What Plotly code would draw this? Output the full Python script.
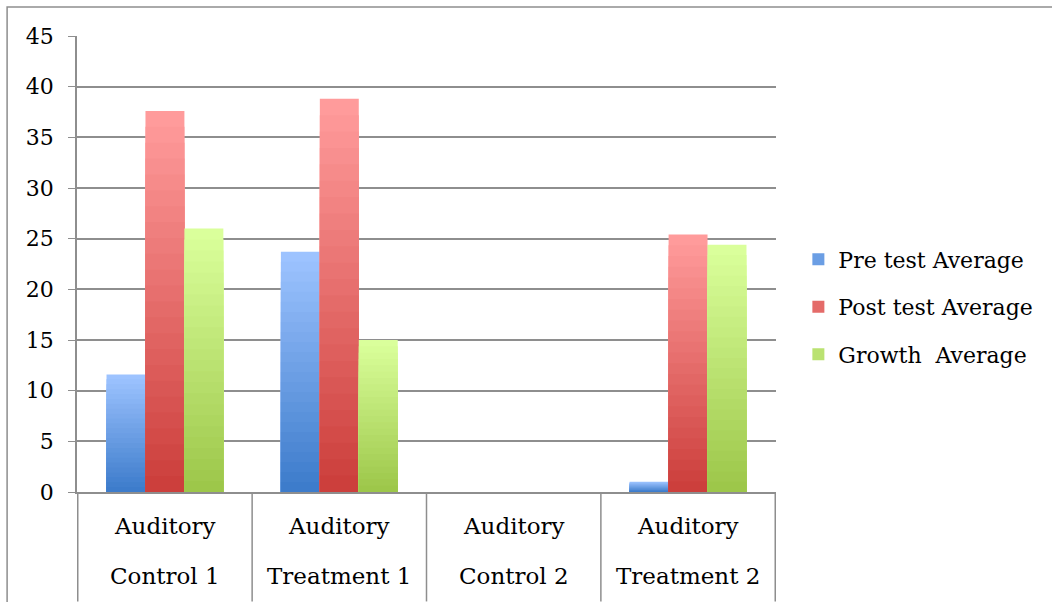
import plotly.graph_objects as go

categories = ["Auditory Control 1", "Auditory Treatment 1", "Auditory Control 2", "Auditory Treatment 2"]
label_line1 = ["Auditory", "Auditory", "Auditory", "Auditory"]
label_line2 = ["Control 1", "Treatment 1", "Control 2", "Treatment 2"]

pre_test = [11.6, 23.7, 0, 1.0]
post_test = [37.6, 38.8, 0, 25.4]
growth = [26.0, 15.0, 0, 24.4]

series_names = ["Pre test Average", "Post test Average", "Growth  Average"]
series_values = [pre_test, post_test, growth]
# (top colour, bottom colour) for a vertical gradient
series_colors = [((157, 195, 255), (61, 124, 203)),
                 ((255, 155, 155), (204, 63, 60)),
                 ((218, 255, 155), (157, 199, 74))]

FONT = "DejaVu Serif"
K = 24  # gradient steps

fig = go.Figure()
for s, (name, vals, (top, bot)) in enumerate(zip(series_names, series_values, series_colors)):
    for i in range(K):
        f = i / (K - 1)
        c = tuple(round(top[j] + (bot[j] - top[j]) * f) for j in range(3))
        frac = (K - i) / K
        fig.add_trace(go.Bar(
            x=categories,
            y=[v * frac for v in vals],
            name=name,
            offsetgroup=str(s),
            legendgroup=name,
            showlegend=(i == K // 2),
            marker=dict(color="rgb(%d,%d,%d)" % c, line=dict(width=0)),
            hoverinfo="skip" if i > 0 else None,
        ))

n = len(categories)
shapes = []
for b in range(n + 1):
    shapes.append(dict(type="line", xref="x", yref="paper", x0=b - 0.5, x1=b - 0.5,
                       y0=0, y1=-0.24, line=dict(color="#8E8E8E", width=1.5), layer="below"))
# outer chart border
shapes.append(dict(type="rect", xref="paper", yref="paper", x0=-0.1, x1=1.45, y0=-0.3, y1=1.0636,
                   line=dict(color="#8E8E8E", width=1.5), layer="below"))

annotations = []
for i in range(n):
    annotations.append(dict(x=categories[i], y=0, xref="x", yref="paper", text=label_line1[i],
                            showarrow=False, yanchor="middle", yshift=-34,
                            font=dict(family=FONT, size=23, color="#000")))
    annotations.append(dict(x=categories[i], y=0, xref="x", yref="paper", text=label_line2[i],
                            showarrow=False, yanchor="middle", yshift=-84,
                            font=dict(family=FONT, size=23, color="#000")))

fig.update_layout(
    width=1052, height=602,
    margin=dict(l=77, r=276, t=36, b=110),
    paper_bgcolor="white", plot_bgcolor="white",
    barmode="group", bargap=0.33, bargroupgap=0,
    font=dict(family=FONT, size=22, color="#000"),
    shapes=shapes, annotations=annotations,
    legend=dict(x=1.032, y=0.406, xanchor="left", yanchor="middle",
                font=dict(family=FONT, size=22, color="#000"),
                traceorder="grouped", tracegroupgap=16, itemwidth=30),
    xaxis=dict(showticklabels=False, ticks="", showgrid=False, showline=True,
               linecolor="#8E8E8E", linewidth=1.5, zeroline=False),
    yaxis=dict(range=[0, 45], dtick=5, showgrid=True, gridcolor="#8E8E8E", gridwidth=1.5,
               showline=True, linecolor="#8E8E8E", linewidth=1.5, ticks="outside", ticklen=7,
               tickcolor="#8E8E8E", zeroline=False, ticklabelstandoff=10,
               tickfont=dict(family=FONT, size=22, color="#000")),
)
fig.write_html("out.html")
